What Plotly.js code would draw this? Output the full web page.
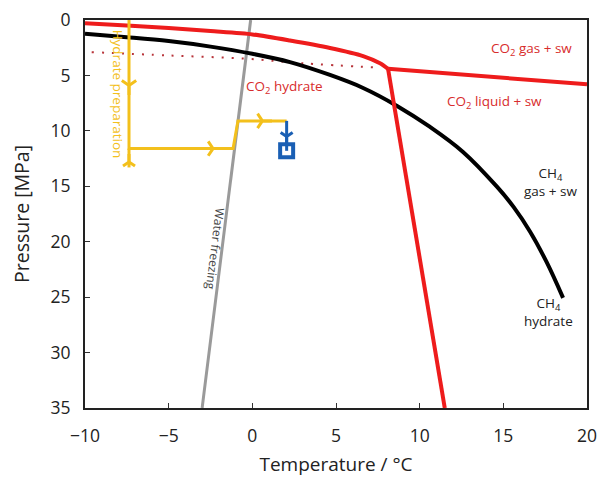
<!DOCTYPE html>
<html>
<head>
<meta charset="utf-8">
<script src="https://cdn.plot.ly/plotly-3.0.1.min.js"></script>
<style>html,body{margin:0;padding:0;background:#fff;}#chart{width:599px;height:479px;}</style>
</head>
<body>
<div id="chart"></div>
<script>
// CO2 hydrate equilibrium (red, upper curve)
var co2HydT = [-10, -7.5, -5, -2.5, 0, 2.25, 4.64, 6.62, 7.63, 8.11];
var co2HydP = [0.3, 0.5, 0.72, 1.0, 1.3, 1.85, 2.52, 3.25, 3.9, 4.4];
// CO2 gas / liquid boundary
var co2GasT = [8.11, 20];
var co2GasP = [4.4, 5.8];
// CO2 liquid hydrate boundary
var co2LiqT = [8.11, 11.5];
var co2LiqP = [4.4, 35];
// CO2 vapour pressure extension (dotted)
var co2DotT = [-9.6, -5, -0.3, 3.0, 7.6];
var co2DotP = [2.9, 3.2, 3.5, 3.9, 4.3];
// CH4 hydrate equilibrium (black)
var ch4T = [-10, -7.5, -5, -2.5, 0, 2.25, 4.64, 6.62, 8.65, 10.62, 12.59, 14.63, 15.61, 16.6, 17.59, 18.57];
var ch4P = [1.25, 1.55, 1.9, 2.4, 3.05, 3.8, 4.96, 6.13, 7.75, 9.65, 11.9, 15.06, 16.86, 19.1, 21.85, 25.07];
// Water freezing line (gray)
var waterT = [-0.1, -3.0];
var waterP = [0, 35];
// Hydrate preparation path (yellow)
var prepT = [-7.37, -7.37, -1.15, -0.86, 2.05];
var prepP = [0, 11.6, 11.6, 9.1, 9.1];
var prepTailT = [-7.37, -7.37];
var prepTailP = [11.6, 13.3];
// Arrow positions along the path
var arrowDownT = [-7.37];
var arrowDownP = [5.9];
var arrowRightT = [-2.35, 0.6];
var arrowRightP = [11.6, 9.1];
var arrowTailT = [-7.37];
var arrowTailP = [12.8];
// Blue step
var blueT = [2.05, 2.05];
var blueP = [9.1, 11.8];
var blueArrowT = [2.05];
var blueArrowP = [10.5];
var sampleT = [2.05];
var sampleP = [11.8];

var RED = '#ee1c1c', YEL = '#f3c01c', BLUE = '#1a5fb4', GRAY = '#9a9a9a';
var TXTRED = '#d82c2c';

var traces = [
  {x: co2DotT, y: co2DotP, mode: 'lines', line: {color: '#b8343a', width: 2, dash: '2px,8px', shape: 'spline', simplify: false}},
  {x: waterT, y: waterP, mode: 'lines', line: {color: GRAY, width: 3}},
  {x: ch4T, y: ch4P, mode: 'lines', line: {color: '#000', width: 4, shape: 'spline', smoothing: 1, simplify: false}},
  {x: co2HydT, y: co2HydP, mode: 'lines', line: {color: RED, width: 4, shape: 'spline', smoothing: 0.7, simplify: false}},
  {x: co2GasT, y: co2GasP, mode: 'lines', line: {color: RED, width: 4}},
  {x: co2LiqT, y: co2LiqP, mode: 'lines', line: {color: RED, width: 4}},
  {x: prepT, y: prepP, mode: 'lines', line: {color: YEL, width: 3, simplify: false}},
  {x: prepTailT, y: prepTailP, mode: 'lines', line: {color: YEL, width: 3}},
  {x: arrowDownT, y: arrowDownP, mode: 'markers', marker: {symbol: 'y-down', size: 12, line: {color: YEL, width: 3}}},
  {x: arrowRightT, y: arrowRightP, mode: 'markers', marker: {symbol: 'y-right', size: 12, line: {color: YEL, width: 3}}},
  {x: arrowTailT, y: arrowTailP, mode: 'markers', marker: {symbol: 'y-up', size: 10, line: {color: YEL, width: 3}}},
  {x: blueT, y: blueP, mode: 'lines', line: {color: BLUE, width: 3}},
  {x: blueArrowT, y: blueArrowP, mode: 'markers', marker: {symbol: 'y-down', size: 10, line: {color: BLUE, width: 3}}},
  {x: sampleT, y: sampleP, mode: 'markers', marker: {symbol: 'square-open', size: 13, color: BLUE, line: {color: BLUE, width: 4}}}
];

var FONT = 'Open Sans, Noto Sans, sans-serif';
var layout = {
  width: 599, height: 479,
  margin: {l: 85, r: 12, t: 20, b: 71},
  showlegend: false,
  paper_bgcolor: '#fff', plot_bgcolor: '#fff',
  font: {family: FONT, size: 16, color: '#222'},
  xaxis: {
    range: [-10, 20], tickvals: [-10, -5, 0, 5, 10, 15, 20],
    ticktext: ['\u221210', '\u22125', '0', '5', '10', '15', '20'],
    ticks: 'inside', ticklen: 5, tickwidth: 1, tickcolor: '#333',
    showline: true, linecolor: '#222', linewidth: 2, mirror: true,
    showgrid: false, zeroline: false, ticklabelstandoff: 11,
    tickfont: {size: 17.5, family: FONT, color: '#222'},
    title: {text: 'Temperature / \u00b0C', font: {size: 19, family: FONT, color: '#222'}, standoff: 12}
  },
  yaxis: {
    range: [35, 0], tickvals: [0, 5, 10, 15, 20, 25, 30, 35],
    ticks: 'inside', ticklen: 5, tickwidth: 1, tickcolor: '#333',
    showline: true, linecolor: '#222', linewidth: 2, mirror: true,
    showgrid: false, zeroline: false, ticklabelstandoff: 9,
    tickfont: {size: 17.5, family: FONT, color: '#222'},
    title: {text: 'Pressure [MPa]', font: {size: 19.5, family: FONT, color: '#222'}, standoff: 16}
  },
  annotations: [
    {x: 1.9, y: 6.0, xref: 'x', yref: 'y', text: 'CO<sub>2</sub> hydrate', showarrow: false, font: {size: 13.5, color: TXTRED, family: FONT}},
    {x: 16.7, y: 2.6, xref: 'x', yref: 'y', text: 'CO<sub>2</sub> gas + sw', showarrow: false, font: {size: 13.5, color: TXTRED, family: FONT}},
    {x: 14.5, y: 7.4, xref: 'x', yref: 'y', text: 'CO<sub>2</sub> liquid + sw', showarrow: false, font: {size: 13.5, color: TXTRED, family: FONT}},
    {x: 17.8, y: 14.6, xref: 'x', yref: 'y', text: 'CH<sub>4</sub><br>gas + sw', showarrow: false, font: {size: 13.5, color: '#222', family: FONT}},
    {x: 17.7, y: 26.3, xref: 'x', yref: 'y', text: 'CH<sub>4</sub><br>hydrate', showarrow: false, font: {size: 13.5, color: '#222', family: FONT}},
    {x: -2.2, y: 20.6, xref: 'x', yref: 'y', text: 'Water freezing', textangle: 97, showarrow: false, font: {size: 12, color: '#444', family: FONT}},
    {x: -8.05, y: 6.7, xref: 'x', yref: 'y', text: 'Hydrate preparation', textangle: 90, showarrow: false, font: {size: 13.5, color: YEL, family: FONT}}
  ]
};

Plotly.newPlot('chart', traces, layout, {staticPlot: true, displayModeBar: false});
</script>
</body>
</html>
